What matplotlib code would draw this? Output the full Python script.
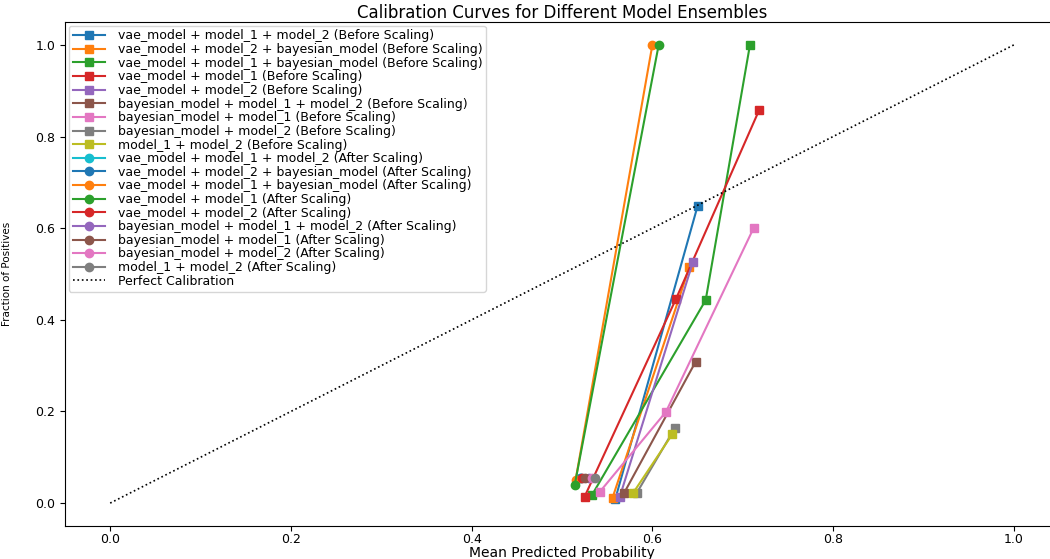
import matplotlib.pyplot as plt

ensembles = [
    "vae_model + model_1 + model_2",
    "vae_model + model_2 + bayesian_model",
    "vae_model + model_1 + bayesian_model",
    "vae_model + model_1",
    "vae_model + model_2",
    "bayesian_model + model_1 + model_2",
    "bayesian_model + model_1",
    "bayesian_model + model_2",
    "model_1 + model_2",
]

# mean predicted probability / fraction of positives
before_x = [
    [0.559, 0.650],
    [0.556, 0.641],
    [0.533, 0.659, 0.708],
    [0.525, 0.626, 0.718],
    [0.564, 0.645],
    [0.569, 0.648],
    [0.542, 0.615, 0.712],
    [0.583, 0.625],
    [0.579, 0.622],
]
before_y = [
    [0.009, 0.648],
    [0.012, 0.515],
    [0.017, 0.443, 1.0],
    [0.014, 0.445, 0.857],
    [0.014, 0.527],
    [0.023, 0.309],
    [0.025, 0.199, 0.600],
    [0.023, 0.164],
    [0.023, 0.150],
]

after_x = [
    [0.520],
    [0.521],
    [0.515, 0.600],
    [0.514, 0.607],
    [0.522],
    [0.530],
    [0.525],
    [0.533],
    [0.536],
]
after_y = [
    [0.055],
    [0.055],
    [0.050, 1.0],
    [0.039, 1.0],
    [0.055],
    [0.055],
    [0.055],
    [0.055],
    [0.055],
]

fig = plt.figure(figsize=(10.5, 5.59), dpi=100)
ax = fig.add_axes([65 / 1050, 33 / 559, 994 / 1050, 504 / 559])

for name, xs, ys in zip(ensembles, before_x, before_y):
    ax.plot(xs, ys, marker='s', label=f"{name} (Before Scaling)")

for name, xs, ys in zip(ensembles, after_x, after_y):
    ax.plot(xs, ys, marker='o', label=f"{name} (After Scaling)")

ax.plot([0, 1], [0, 1], 'k:', lw=1.2, label="Perfect Calibration")

ax.set_xlabel("Mean Predicted Probability", fontsize=10, labelpad=0)
ax.set_ylabel("Fraction of Positives", fontsize=7.5)
ax.yaxis.set_label_coords(-0.053, 0.5)
ax.set_title("Calibration Curves for Different Model Ensembles", fontsize=12, pad=3)
ax.set_xlim(-0.05, 1.05)
ax.set_ylim(-0.05, 1.05)
ax.set_xticks([0.0, 0.2, 0.4, 0.6, 0.8, 1.0])
ax.set_yticks([0.0, 0.2, 0.4, 0.6, 0.8, 1.0])
ax.tick_params(labelsize=9)
ax.tick_params(axis='x', pad=1.5)
ax.legend(loc='upper left', fontsize=9, labelspacing=0.05, borderpad=0.3,
          handlelength=2.6, handletextpad=1.0, borderaxespad=0.3)

fig.savefig("out.png", dpi=100)
